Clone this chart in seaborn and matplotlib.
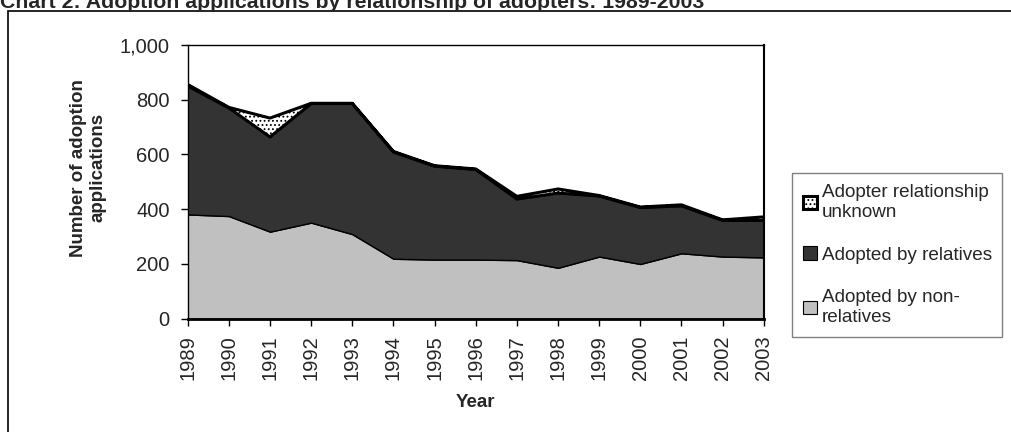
import matplotlib
matplotlib.use("Agg")
import matplotlib.pyplot as plt
import matplotlib.ticker as mticker
from matplotlib.patches import Patch, Rectangle
import seaborn as sns
import numpy as np

years = [1989, 1990, 1991, 1992, 1993, 1994, 1995, 1996,
         1997, 1998, 1999, 2000, 2001, 2002, 2003]
non_relatives = [381, 375, 318, 351, 309, 219, 216, 216, 214, 186, 227, 200, 239, 227, 224]
relatives = [469, 395, 346, 435, 477, 390, 341, 329, 223, 273, 221, 206, 173, 132, 135]
unknown = [6, 2, 69, 1, 1, 2, 2, 2, 10, 15, 2, 2, 4, 2, 13]

series_labels = ["Adopted by non-\nrelatives", "Adopted by relatives",
                 "Adopter relationship\nunknown"]

sns.set_style("white")
plt.rcParams['font.family'] = ['Liberation Sans', 'DejaVu Sans']
plt.rcParams['hatch.linewidth'] = 0.8

fig = plt.figure(figsize=(10.12, 4.32), dpi=100)
ax = fig.add_axes([0.1855, 0.2623, 0.5692, 0.6335])

polys = ax.stackplot(years, non_relatives, relatives, unknown,
                     colors=["#c0c0c0", "#333333", "white"])
polys[0].set_edgecolor("black")
polys[0].set_linewidth(1.0)
polys[1].set_edgecolor("black")
polys[1].set_linewidth(1.0)
polys[2].set_edgecolor("black")
polys[2].set_linewidth(2.2)
polys[2].set_hatch("....")

ax.set_xlim(years[0], years[-1])
ax.set_ylim(0, 1000)
ax.set_xticks(years)
ax.set_xticklabels([str(y) for y in years], rotation=90, fontsize=14.5)
ax.set_yticks(np.arange(0, 1001, 200))
ax.yaxis.set_major_formatter(mticker.FuncFormatter(lambda v, p: f"{int(v):,}"))
ax.tick_params(axis='y', labelsize=14.5, length=5, width=1, direction='out',
               left=True, pad=8, color='black')
ax.tick_params(axis='x', length=5, width=1, direction='out', bottom=True,
               pad=7, color='black')

for side in ['left', 'top', 'right']:
    ax.spines[side].set_color('black')
    ax.spines[side].set_linewidth(1.0)
ax.spines['bottom'].set_color('black')
ax.spines['bottom'].set_linewidth(2.0)
ax.spines['right'].set_linewidth(1.5)

ax.set_ylabel("Number of adoption\napplications", fontsize=13.5,
              fontweight='bold')
ax.yaxis.set_label_coords(-0.1406, 0.551)
ax.set_xlabel("Year", fontsize=13.5, fontweight='bold')
ax.xaxis.set_label_coords(0.5, -0.275)

# legend (top entry is the top layer)
handles = [
    Patch(facecolor="white", edgecolor="black", hatch="....", linewidth=2.2),
    Patch(facecolor="#333333", edgecolor="black", linewidth=0.8),
    Patch(facecolor="#c0c0c0", edgecolor="black", linewidth=0.8),
]
leg = fig.legend(handles, series_labels[::-1], loc='upper left',
                 bbox_to_anchor=(0.7826, 0.213, 0.2074, 0.3865), mode='expand',
                 fontsize=13.6, frameon=True, fancybox=False, framealpha=1,
                 edgecolor='#808080', handlelength=0.7, handleheight=0.7,
                 handletextpad=0.3, labelspacing=1.35, borderpad=0.6,
                 borderaxespad=0)
leg.get_frame().set_linewidth(1.0)

# outer chart frame
fig.patches.append(Rectangle((8 / 1012, -0.05), 1.1, 1 - 11 / 432 + 0.05,
                             transform=fig.transFigure, fill=False,
                             edgecolor='black', linewidth=1.2))

fig.text(0.0, 1 - 8 / 432,
         "Chart 2: Adoption applications by relationship of adopters: 1989-2003",
         fontsize=15.3, fontweight='bold', ha='left', va='baseline')

fig.savefig("out.png", dpi=100)
